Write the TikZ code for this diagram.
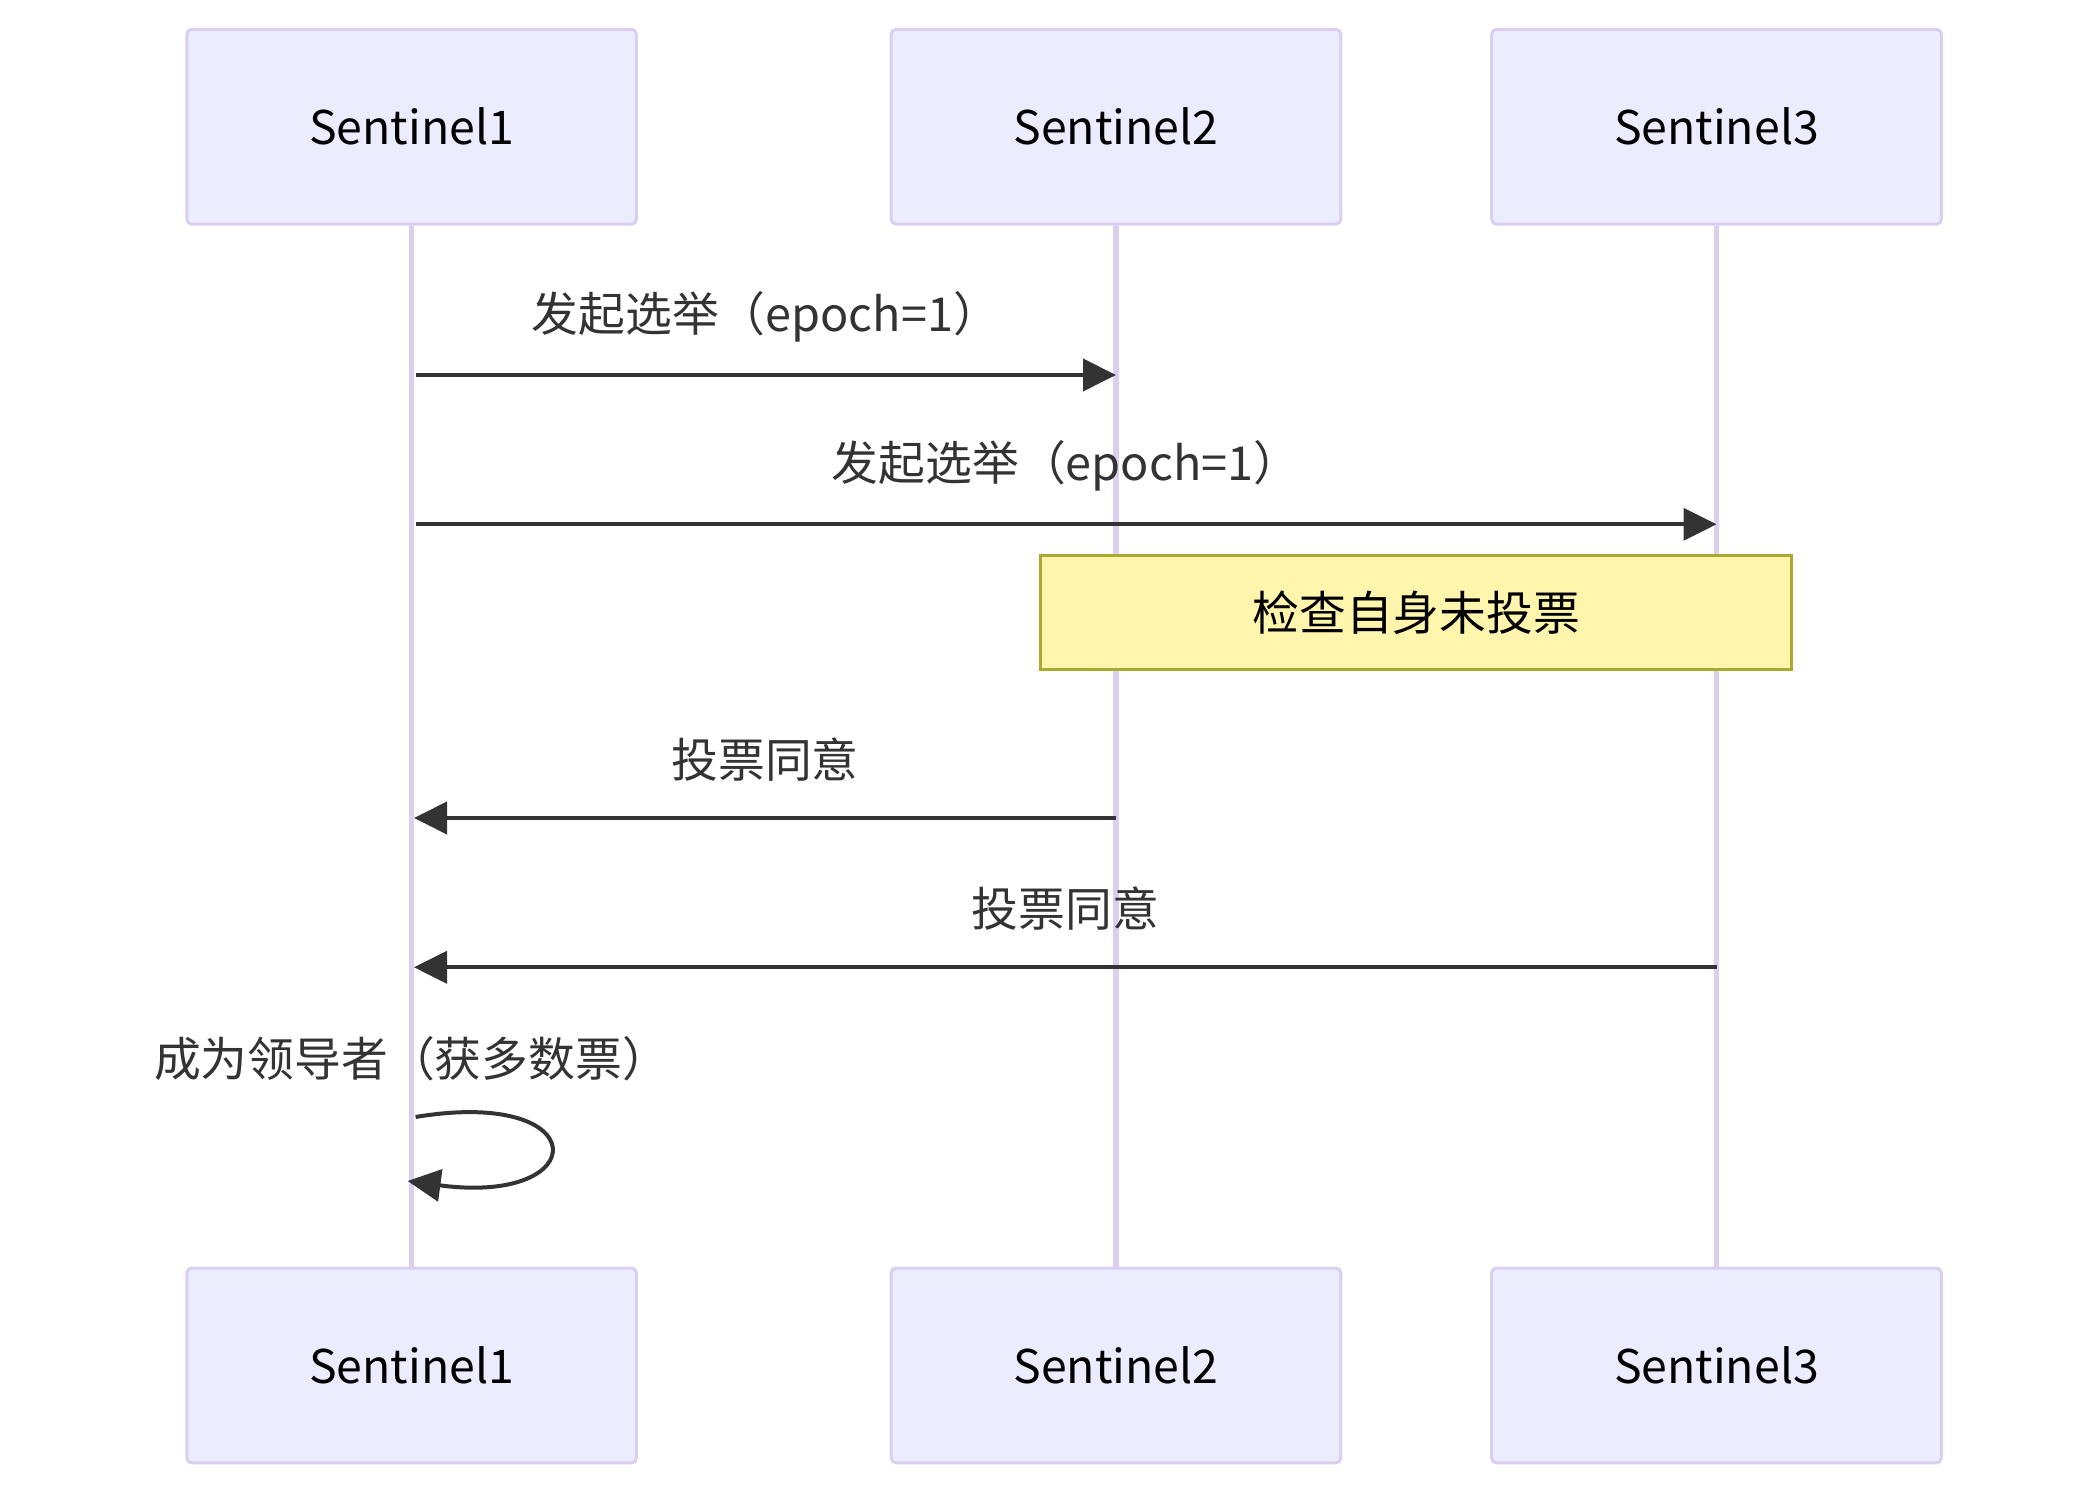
\documentclass[tikz,border=0pt]{standalone}
\usepackage{fontspec}
\setmainfont{Noto Sans CJK SC}
\usetikzlibrary{arrows.meta}
\definecolor{actorfill}{HTML}{ECECFF}
\definecolor{actorline}{HTML}{DACEF3}
\definecolor{msgcolor}{HTML}{333333}
\definecolor{notefill}{HTML}{FFF5AD}
\definecolor{noteline}{HTML}{AAAA33}
\begin{document}
\begin{tikzpicture}[x=0.25pt, y=-0.25pt,
    actor/.style={draw=actorline, line width=0.75pt, fill=actorfill, rounded corners=1.2pt,
      minimum width=112.4pt, minimum height=48.7pt, inner sep=0pt, font=\fontsize{11.6}{14}\selectfont},
    lifeline/.style={actorline, line width=1.3pt},
    msg/.style={msgcolor, line width=1pt, -{Triangle[length=8.25pt, width=8pt]}},
    msglabel/.style={text=msgcolor, inner sep=0pt, font=\fontsize{11.7}{14}\selectfont},
    notebox/.style={draw=noteline, line width=0.75pt, fill=notefill, minimum width=187.8pt,
      minimum height=28.35pt, inner sep=0pt, font=\fontsize{11.7}{14}\selectfont}]
    \useasboundingbox (0,0) rectangle (2092,1497);

    % Participantes arriba y abajo
    \node[actor] (a1) at (411.6,126.75) {Sentinel1};
    \node[actor] (a2) at (1116,126.75)  {Sentinel2};
    \node[actor] (a3) at (1716.5,126.75) {Sentinel3};
    \node[actor] (b1) at (411.6,1365.5) {Sentinel1};
    \node[actor] (b2) at (1116,1365.5)  {Sentinel2};
    \node[actor] (b3) at (1716.5,1365.5) {Sentinel3};

    % Líneas de vida
    \draw[lifeline] (a1.south) -- (b1.north);
    \draw[lifeline] (a2.south) -- (b2.north);
    \draw[lifeline] (a3.south) -- (b3.north);

    % Nota sobre Sentinel2 y Sentinel3
    \node[notebox] (chk) at (1416.25,612.5) {检查自身未投票};

    % Mensajes: y de cada flecha
    \coordinate (m1a) at ([xshift=1pt]a1 |- 0,375);
    \coordinate (m1b) at (a2 |- 0,375);
    \coordinate (m2a) at ([xshift=1pt]a1 |- 0,524.3);
    \coordinate (m2b) at (a3 |- 0,524.3);
    \coordinate (m3a) at (a2 |- 0,818);
    \coordinate (m3b) at ([xshift=0.6pt]a1 |- 0,818);
    \coordinate (m4a) at (a3 |- 0,967.3);
    \coordinate (m4b) at ([xshift=0.6pt]a1 |- 0,967.3);

    \draw[msg] (m1a) -- node[msglabel, yshift=14.6pt] (l1) {发起选举（epoch=1）} (m1b);
    \draw[msg] (m2a) -- node[msglabel, yshift=14.6pt] (l2) {发起选举（epoch=1）} (m2b);
    \draw[msg] (m3a) -- node[msglabel, yshift=14.6pt] (l3) {投票同意} (m3b);
    \draw[msg] (m4a) -- node[msglabel, yshift=14.6pt] (l4) {投票同意} (m4b);

    % Mensaje a sí mismo
    \coordinate (m5a) at ([xshift=1pt]a1 |- 0,1117);
    \coordinate (m5b) at ([xshift=-1pt]a1 |- 0,1181);
    \node[msglabel] (l5) at (a1 |- 0,1058.5) {成为领导者（获多数票）};
    \draw[msg] (m5a) .. controls +(180,-30) and +(186,25) .. (m5b);
\end{tikzpicture}
\end{document}
